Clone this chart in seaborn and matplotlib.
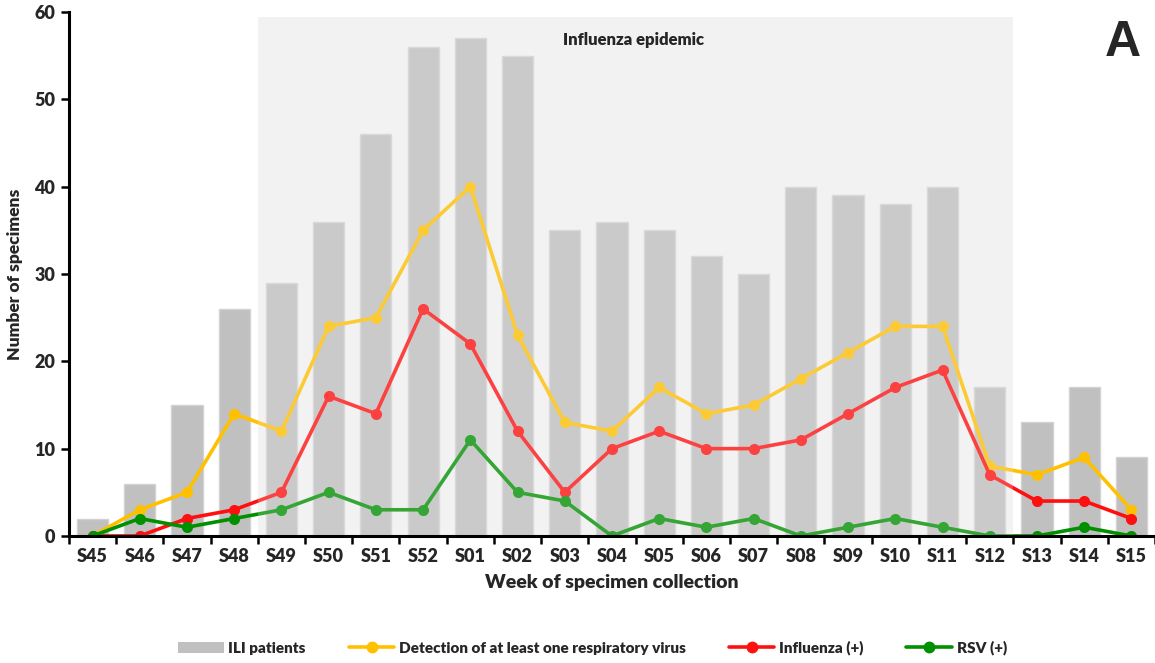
import matplotlib
matplotlib.use("Agg")
import matplotlib.pyplot as plt
import seaborn as sns
import pandas as pd
import numpy as np
from matplotlib.patches import Patch
from matplotlib.lines import Line2D

weeks = ["S45", "S46", "S47", "S48", "S49", "S50", "S51", "S52", "S01", "S02", "S03", "S04",
         "S05", "S06", "S07", "S08", "S09", "S10", "S11", "S12", "S13", "S14", "S15"]
ili_patients = [2, 6, 15, 26, 29, 36, 46, 56, 57, 55, 35, 36, 35, 32, 30, 40, 39, 38, 40, 17, 13, 17, 9]
any_virus = [0, 3, 5, 14, 12, 24, 25, 35, 40, 23, 13, 12, 17, 14, 15, 18, 21, 24, 24, 8, 7, 9, 3]
influenza = [0, 0, 2, 3, 5, 16, 14, 26, 22, 12, 5, 10, 12, 10, 10, 11, 14, 17, 19, 7, 4, 4, 2]
rsv = [0, 2, 1, 2, 3, 5, 3, 3, 11, 5, 4, 0, 2, 1, 2, 0, 1, 2, 1, 0, 0, 1, 0]

labels = ["ILI patients", "Detection of at least one respiratory virus", "Influenza (+)", "RSV (+)"]
colors = {"bar": "#C0C0C0", "any": "#FFC000", "flu": "#FF1010", "rsv": "#009000"}

sns.set_theme(style="white")
plt.rcParams["font.family"] = ["Lato", "DejaVu Sans"]
plt.rcParams["font.weight"] = "heavy"

df = pd.DataFrame({"week": weeks, "ili": ili_patients, "any": any_virus, "flu": influenza, "rsv": rsv})

fig = plt.figure(figsize=(11.55, 6.63), dpi=100)
ax = fig.add_axes([0.0597, 0.1916, 0.9403, 0.7904])

# epidemic shading (behind)
ax.axvspan(3.5, 19.5, ymin=0, ymax=59.4 / 60, color="#F2F2F2", zorder=0, lw=0)

sns.barplot(data=df, x="week", y="ili", color=colors["bar"], width=0.66, ax=ax,
            edgecolor="#D2D2D2", linewidth=1, saturation=1, zorder=1)

for key, c in [("any", colors["any"]), ("flu", colors["flu"]), ("rsv", colors["rsv"])]:
    sns.lineplot(data=df, x="week", y=key, color=c, lw=2.6, marker="o", markersize=8,
                 markeredgewidth=0, ax=ax, zorder=3, sort=False)

# translucent overlay on epidemic period
ax.axvspan(3.5, 19.5, ymin=0, ymax=59.4 / 60, color="#F2F2F2", alpha=0.22, zorder=4, lw=0)

ax.set_xlim(-0.5, 22.5)
ax.set_ylim(0, 60)
ax.set_yticks(range(0, 61, 10))
ax.set_xticks(range(len(weeks)))
ax.set_xticklabels(weeks, fontsize=13, fontweight="heavy")
ax.set_yticklabels([str(v) for v in range(0, 61, 10)], fontsize=13, fontweight="heavy")
ax.set_xticks(np.arange(-0.5, 22.6, 1), minor=True)
ax.tick_params(axis="x", which="major", length=0, pad=9)
ax.tick_params(axis="x", which="minor", length=6, width=1.8, color="black", direction="out")
ax.tick_params(axis="y", which="major", length=6, width=1.8, color="black", direction="out", pad=4)
ax.xaxis.set_ticks_position("bottom")
ax.yaxis.set_ticks_position("left")

for s in ["top", "right"]:
    ax.spines[s].set_visible(False)
for s in ["left", "bottom"]:
    ax.spines[s].set_color("black")
    ax.spines[s].set_linewidth(2.2)
    ax.spines[s].set_zorder(5)

ax.set_xlabel("Week of specimen collection", fontsize=14, fontweight="heavy", labelpad=6)
ax.set_ylabel("Number of specimens", fontsize=12.5, fontweight="heavy", labelpad=8)

ax.text(11.45, 56.8, "Influenza epidemic", ha="center", va="center", fontsize=12,
        fontweight="heavy", zorder=6)
fig.text(0.988, 0.935, "A", ha="right", va="center", fontsize=36, fontweight="bold",
         family=["Liberation Sans", "DejaVu Sans"])

handles = [
    Patch(facecolor=colors["bar"], edgecolor="none"),
    Line2D([0], [0], color=colors["any"], lw=2.6, marker="o", markersize=7.5),
    Line2D([0], [0], color=colors["flu"], lw=2.6, marker="o", markersize=7.5),
    Line2D([0], [0], color=colors["rsv"], lw=2.6, marker="o", markersize=7.5),
]
leg = fig.legend(handles, labels, loc="center", bbox_to_anchor=(0.513, 0.023), ncol=4,
                 frameon=False, handlelength=3.0, handletextpad=0.3,
                 columnspacing=2.8, prop={"weight": "heavy", "size": 11})

fig.savefig("out.png", dpi=100)
